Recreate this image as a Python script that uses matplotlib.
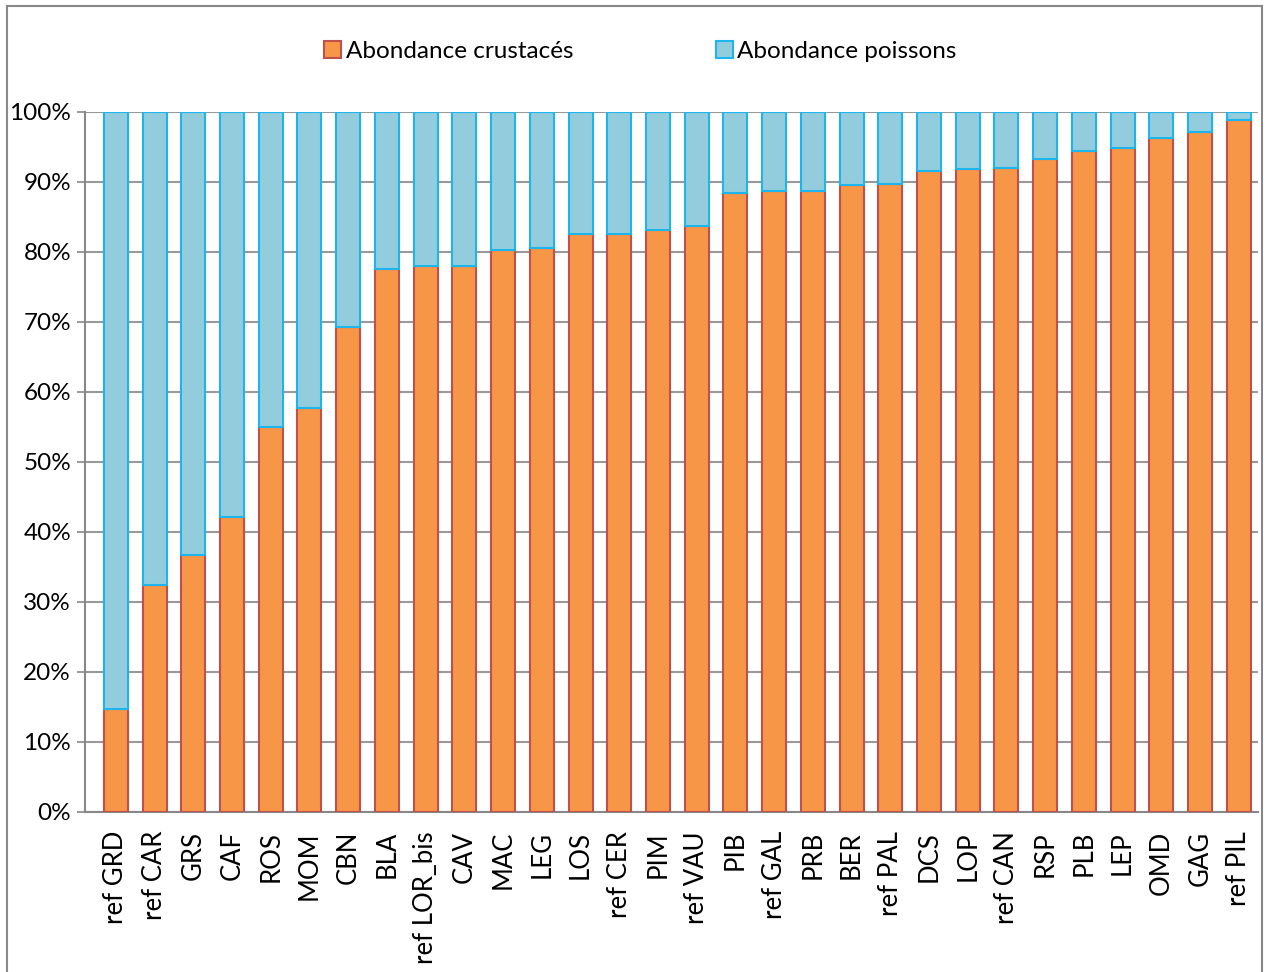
import matplotlib.pyplot as plt
from matplotlib.ticker import PercentFormatter
from matplotlib.patches import Rectangle

plt.rcParams['font.family'] = ['Lato', 'DejaVu Sans']

# Stations (sorted by crustacean share)
stations = ['ref GRD', 'ref CAR', 'GRS', 'CAF', 'ROS', 'MOM', 'CBN', 'BLA', 'ref LOR_bis', 'CAV',
            'MAC', 'LEG', 'LOS', 'ref CER', 'PIM', 'ref VAU', 'PIB', 'ref GAL', 'PRB', 'BER',
            'ref PAL', 'DCS', 'LOP', 'ref CAN', 'RSP', 'PLB', 'LEP', 'OMD', 'GAG', 'ref PIL']

# Share of crustaceans (%)
crustaces = [14.7, 32.4, 36.6, 42.1, 55.0, 57.7, 69.3, 77.5, 77.9, 77.9,
             80.3, 80.6, 82.6, 82.6, 83.1, 83.7, 88.4, 88.7, 88.7, 89.5,
             89.7, 91.6, 91.8, 92.0, 93.2, 94.4, 94.8, 96.3, 97.1, 98.8]
# Share of fish (%)
poissons = [100 - c for c in crustaces]

fig = plt.figure(figsize=(12.67, 9.72), dpi=100)
ax = fig.add_axes([0.067, 0.165, 0.926, 0.72])

x = range(len(stations))
ax.bar(x, crustaces, width=0.62, color='#F79646', edgecolor='#C0504D', linewidth=1.5,
       label='Abondance crustacés', zorder=3)
ax.bar(x, poissons, width=0.62, bottom=crustaces, color='#93CDDD', edgecolor='#1CB5EE',
       linewidth=1.5, label='Abondance poissons', zorder=3)

ax.set_ylim(0, 100)
ax.set_xlim(-0.8, len(stations) - 0.5)
ax.set_yticks(range(0, 101, 10))
ax.yaxis.set_major_formatter(PercentFormatter(decimals=0))
ax.set_xticks(list(x))
ax.set_xticklabels(stations, rotation=90, fontsize=18.5)
ax.tick_params(axis='y', labelsize=17.5, length=6, color='#888888', width=1.2, pad=4)
ax.tick_params(axis='x', length=0, pad=14)
ax.grid(axis='y', color='#999999', linewidth=1.5, zorder=0)

for side in ['top', 'right']:
    ax.spines[side].set_visible(False)
for side in ['left', 'bottom']:
    ax.spines[side].set_color('#888888')
    ax.spines[side].set_linewidth(1.5)

fig.legend(loc='upper center', bbox_to_anchor=(0.5055, 0.98), ncol=2, frameon=False,
           fontsize=17.5, handlelength=0.7, handleheight=0.7, handletextpad=0.2,
           columnspacing=5.85)

# chart area border (bottom edge falls outside the image, as in the original)
fig.patches.append(Rectangle((0.0055, -0.01), 0.9905, 1.004, transform=fig.transFigure,
                             fill=False, edgecolor='#888888', linewidth=1.5))

plt.savefig('out.png')
